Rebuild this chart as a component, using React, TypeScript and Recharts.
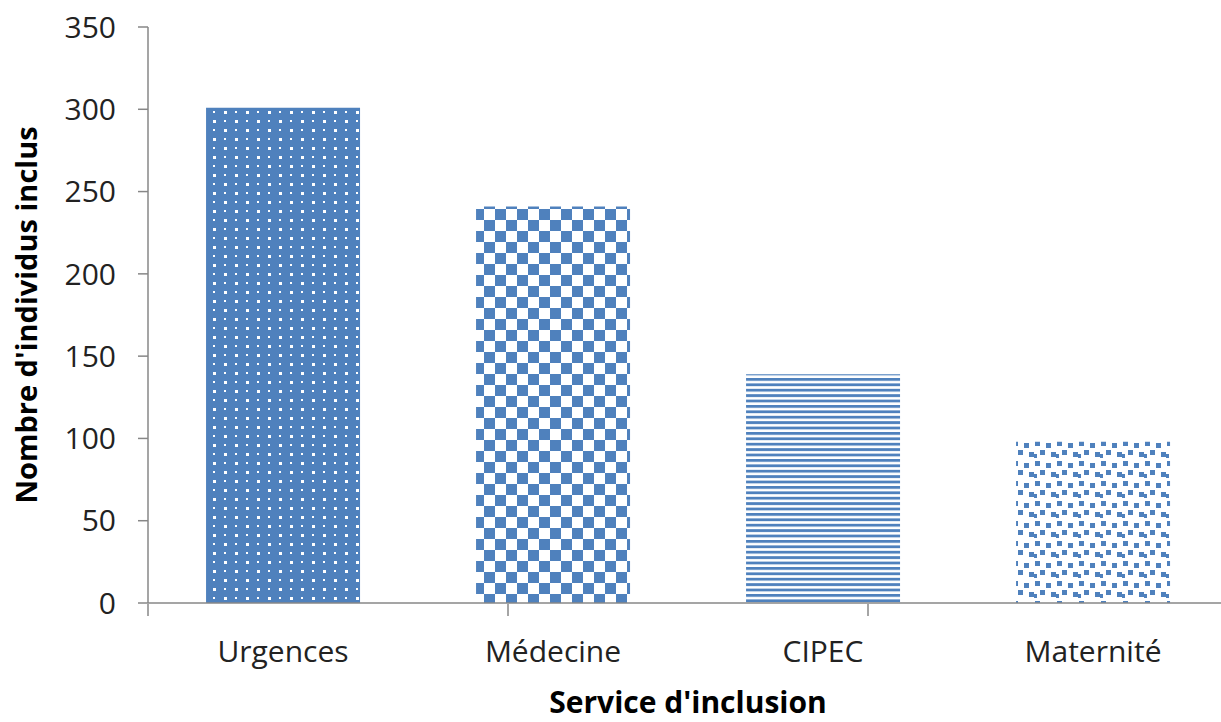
import React from "react";
import { BarChart, Bar, XAxis, YAxis, Cell } from "recharts";

const categories = ["Urgences", "Médecine", "CIPEC", "Maternité"];
const counts = [301, 241, 139, 98];
const patternIds = ["pDots", "pChecker", "pLines", "pScatter"];
const yTicks = [0, 50, 100, 150, 200, 250, 300, 350];
const edgeTicks = [0, 1, 2, 3, 4];

const data = categories.map((name, i) => ({ name, value: counts[i] }));

const BLUE = "#4F81BD";
const AXIS = "#878787";
const FONT = "'Open Sans', sans-serif";

export default function App() {
  return (
    <div style={{ position: "absolute", left: 0, top: 0, width: 1221, height: 722, overflow: "hidden", background: "#fff" }}>
      <BarChart
        width={1228}
        height={722}
        data={data}
        margin={{ top: 27, right: 0, left: 0, bottom: 0 }}
        barCategoryGap="21.5%"
      >
        <defs>
          {/* small white dots on blue */}
          <pattern id="pDots" width="22" height="18" patternUnits="userSpaceOnUse">
            <rect width="22" height="18" fill={BLUE} />
            <rect x="4" y="3" width="3" height="3" fill="#fff" />
            <rect x="15" y="3" width="2" height="2" fill="#fff" />
            <rect x="4" y="12" width="2" height="2" fill="#fff" />
            <rect x="15" y="12" width="3" height="3" fill="#fff" />
          </pattern>
          {/* checkerboard */}
          <pattern id="pChecker" width="22" height="22" patternUnits="userSpaceOnUse">
            <rect width="22" height="22" fill="#fff" />
            <rect x="0" y="0" width="11" height="11" fill={BLUE} />
            <rect x="11" y="11" width="11" height="11" fill={BLUE} />
          </pattern>
          {/* horizontal stripes */}
          <pattern id="pLines" width="10" height="5.4" patternUnits="userSpaceOnUse">
            <rect width="10" height="5.4" fill="#fff" />
            <rect x="0" y="0" width="10" height="2.8" fill={BLUE} />
          </pattern>
          {/* scattered small squares */}
          <pattern id="pScatter" width="22" height="20" patternUnits="userSpaceOnUse">
            <rect width="22" height="20" fill="#fff" />
            <rect x="1" y="1" width="5" height="5" fill={BLUE} />
            <rect x="12" y="3" width="5" height="5" fill={BLUE} />
            <rect x="6" y="10" width="5" height="5" fill={BLUE} />
            <rect x="17" y="12" width="5" height="5" fill={BLUE} />
            <rect x="0" y="14" width="3" height="4" fill={BLUE} />
          </pattern>
        </defs>
        <XAxis
          dataKey="name"
          tickLine={false}
          tickSize={0}
          tickMargin={38}
          height={1}
          axisLine={{ stroke: AXIS, strokeWidth: 1.5 }}
          tick={{ fill: "#222", fontSize: 30, fontFamily: FONT }}
        />
        {/* category boundary tick marks + axis title */}
        <XAxis
          xAxisId="edge"
          type="number"
          domain={[0, 4]}
          ticks={edgeTicks}
          interval={0}
          tickFormatter={() => ""}
          tickSize={12}
          height={118}
          axisLine={false}
          tickLine={{ stroke: AXIS, strokeWidth: 1.5 }}
          allowDataOverflow
          label={{
            value: "Service d'inclusion",
            position: "insideBottom",
            offset: 9,
            style: { fill: "#000", fontSize: 30, fontWeight: 700, fontFamily: FONT }
          }}
        />
        <YAxis
          width={148}
          domain={[0, 350]}
          ticks={yTicks}
          interval={0}
          tickSize={10}
          tickMargin={22}
          axisLine={{ stroke: AXIS, strokeWidth: 1.5 }}
          tickLine={{ stroke: AXIS, strokeWidth: 1.5 }}
          tick={{ fill: "#222", fontSize: 30, fontFamily: FONT }}
          label={{
            value: "Nombre d'individus inclus",
            angle: -90,
            position: "insideLeft",
            offset: 27,
            style: { textAnchor: "middle", fill: "#000", fontSize: 29, fontWeight: 700, fontFamily: FONT }
          }}
        />
        <Bar dataKey="value" isAnimationActive={false}>
          {data.map((d, i) => (
            <Cell key={d.name} fill={`url(#${patternIds[i]})`} />
          ))}
        </Bar>
      </BarChart>
    </div>
  );
}
